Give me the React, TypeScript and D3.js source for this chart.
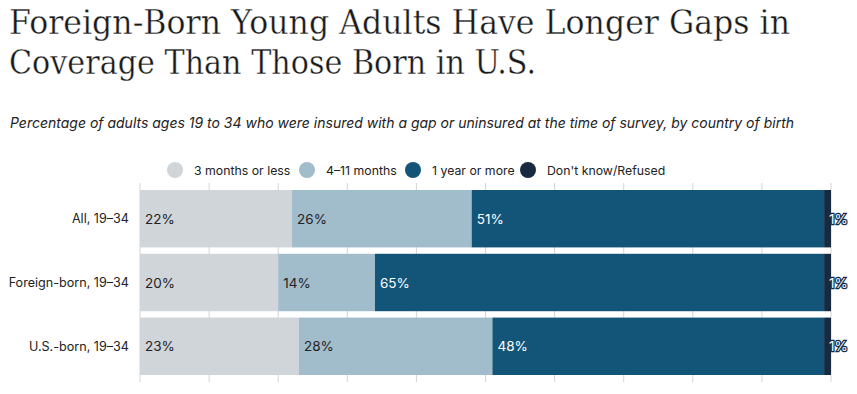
import React from 'react';
import * as d3 from 'd3';

const groups = ['All, 19–34', 'Foreign-born, 19–34', 'U.S.-born, 19–34'];
const seriesNames = ['3 months or less', '4–11 months', '1 year or more', "Don't know/Refused"];
const shortGap = [22, 20, 23];
const midGap = [26, 14, 28];
const longGap = [51, 65, 48];
const refused = [1, 1, 1];
const colors = ['#d0d5d9', '#a1bccb', '#135579', '#172a42'];
const xTicks = [0, 10, 20, 30, 40, 50, 60, 70, 80, 90, 100];

const W = 857;
const H = 394;
const sans = 'Inter, "Noto Sans", sans-serif';
const serif = '"DejaVu Serif", serif';

export default function App() {
  const x = d3.scaleLinear().domain([0, 100]).range([140, 831]);
  const y = d3.scaleBand().domain(groups).range([190, 375]).paddingInner(0.1).paddingOuter(0);

  const rows = groups.map((g, i) => {
    const vals = [shortGap[i], midGap[i], longGap[i], refused[i]];
    let acc = 0;
    return {
      g,
      segs: vals.map((v, k) => {
        const s = { k, v, x0: acc, x1: acc + v };
        acc += v;
        return s;
      }),
    };
  });

  const legendX = [175, 307, 413, 528];

  return (
    <svg width={W} height={H} style={{ position: 'absolute', left: 0, top: 0, background: '#fff' }}>
      <g fontFamily={serif} fontSize={33} fill="#1a1a1a" stroke="#fff" strokeWidth={0.35}>
        <text x={9} y={34} textLength={781} lengthAdjust="spacingAndGlyphs">
          Foreign-Born Young Adults Have Longer Gaps in
        </text>
        <text x={9} y={74} textLength={527} lengthAdjust="spacingAndGlyphs">
          Coverage Than Those Born in U.S.
        </text>
      </g>
      <text x={10} y={128} fontFamily={sans} fontSize={14.5} fontStyle="italic" fill="#222" textLength={784} lengthAdjust="spacingAndGlyphs">
        Percentage of adults ages 19 to 34 who were insured with a gap or uninsured at the time of survey, by country of birth
      </text>

      {seriesNames.map((n, k) => (
        <g key={n}>
          <circle cx={legendX[k]} cy={170} r={8} fill={colors[k]} />
          <text x={legendX[k] + 19} y={174.5} fontFamily={sans} fontSize={12.3} fill="#222">{n}</text>
        </g>
      ))}

      {xTicks.map(t => (
        <line key={t} x1={x(t)} x2={x(t)} y1={183} y2={382} stroke="#d4d4d4" strokeWidth={1} />
      ))}

      {rows.map(r => (
        <g key={r.g}>
          <text x={129} y={(y(r.g) || 0) + y.bandwidth() / 2 + 4.5} textAnchor="end" fontFamily={sans} fontSize={12.6} fill="#222">
            {r.g}
          </text>
          {r.segs.map(s => (
            <rect key={s.k} x={x(s.x0)} y={y(r.g)} width={x(s.x1) - x(s.x0)} height={y.bandwidth()} fill={colors[s.k]} />
          ))}
          {r.segs.map(s => (
            <text
              key={'l' + s.k}
              x={x(s.x0) + 5}
              y={(y(r.g) || 0) + y.bandwidth() / 2 + 5}
              fontFamily={sans}
              fontSize={13.5}
              fill={s.k < 2 ? '#222' : '#fff'}
              stroke={s.k === 3 ? '#172a42' : 'none'}
              strokeWidth={s.k === 3 ? 2.5 : 0}
              style={{ paintOrder: 'stroke' }}
            >
              {s.v}%
            </text>
          ))}
        </g>
      ))}
    </svg>
  );
}
